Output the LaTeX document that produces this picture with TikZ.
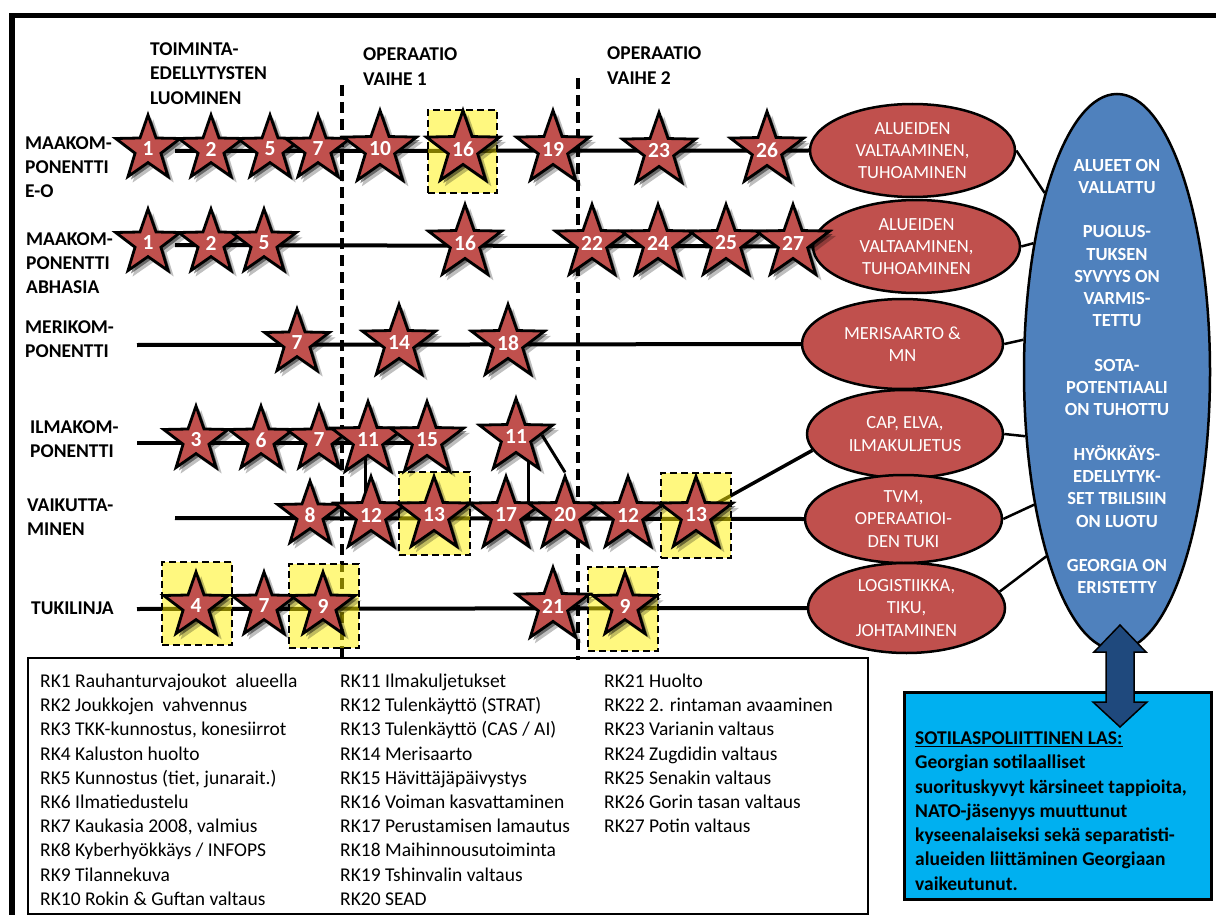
\documentclass[tikz,border=0pt]{standalone}
\usepackage{fontspec}
\setmainfont{Carlito}
\usetikzlibrary{shapes.geometric,shadows,calc}
\definecolor{rkred}{HTML}{C0504D}
\definecolor{rkblue}{HTML}{4F81BD}
\definecolor{rkcyan}{HTML}{00B0F0}
\definecolor{rkdark}{HTML}{1F497D}
\pgfdeclarelayer{bg}
\pgfdeclarelayer{mid}
\pgfsetlayers{bg,mid,main}
\begin{document}
\begin{tikzpicture}[x=1pt,y=-1pt,
  rkstar/.style={star, star points=5, star point ratio=2.5, minimum size=68pt, inner sep=0pt,
    fill=rkred, draw=black, line width=2.8pt, text=white, font=\bfseries\fontsize{21.5}{24}\selectfont,
    drop shadow={shadow xshift=5pt,shadow yshift=-5pt,shadow scale=1.03,opacity=0.25,fill=black},
    drop shadow={shadow xshift=3pt,shadow yshift=-3pt,opacity=0.45,fill=black}},
  ybox/.style={draw=black, line width=2.5pt, dash pattern=on 7pt off 4pt, fill=yellow, fill opacity=0.5,
    inner sep=0pt, minimum width=70pt, minimum height=84pt},
  rkell/.style={ellipse, draw=black, line width=2.5pt, fill=rkred, text=white, align=center, inner sep=0pt,
    font=\fontsize{18.5}{22.3}\selectfont},
  rowline/.style={line width=4pt},
  link/.style={line width=2.5pt},
  phase/.style={line width=4pt, dash pattern=on 11pt off 6pt},
  lbl/.style={anchor=west, align=left, inner sep=0pt, font=\bfseries\fontsize{19.5}{24.3}\selectfont},
  leg/.style={anchor=base west, inner sep=0pt, font=\fontsize{19.5}{24}\selectfont}
]
\useasboundingbox (0,0) rectangle (1216,915);

% frame
\draw[line width=5.5pt] (12,915) -- (12,15.5) -- (1216,15.5);

% headers
\node[lbl] (h0) at (150,73.5) {TOIMINTA-\\EDELLYTYSTEN\\LUOMINEN};
\node[lbl] (h1) at (363,66.5) {OPERAATIO\\VAIHE 1};
\node[lbl] (h2) at (607,65.5) {OPERAATIO\\VAIHE 2};

% row labels
\node[lbl] (r1l) at (25,167) {MAAKOM-\\PONENTTI\\E-O};
\node[lbl] (r2l) at (26,263) {MAAKOM-\\PONENTTI\\ABHASIA};
\node[lbl] (r3l) at (25,339) {MERIKOM-\\PONENTTI};
\node[lbl] (r4l) at (30,439.5) {ILMAKOM-\\PONENTTI};
\node[lbl] (r5l) at (27,517) {VAIKUTTA-\\MINEN};
\node[lbl] (r6l) at (31,608) {TUKILINJA};

% red ellipses
\node[rkell, minimum width=205pt, minimum height=93pt] (E1) at (912.5,150.5) {ALUEIDEN\\VALTAAMINEN,\\TUHOAMINEN};
\node[rkell, minimum width=207pt, minimum height=93pt] (E2) at (916.5,246.5) {ALUEIDEN\\VALTAAMINEN,\\TUHOAMINEN};
\node[rkell, minimum width=201pt, minimum height=90pt] (E3) at (902.5,344) {MERISAARTO \&\\MN};
\node[rkell, minimum width=196pt, minimum height=88pt] (E4) at (905,434) {CAP, ELVA,\\ILMAKULJETUS};
\node[rkell, minimum width=197pt, minimum height=88pt] (E5) at (903.5,519) {TVM,\\OPERAATIOI-\\DEN TUKI};
\node[rkell, minimum width=197pt, minimum height=90pt] (E6) at (906.5,608) {LOGISTIIKKA,\\TIKU,\\JOHTAMINEN};

% big blue ellipse
\node[ellipse, draw=black, line width=2.5pt, fill=rkblue, minimum width=186pt, minimum height=556pt, inner sep=0pt] (G) at (1117,372) {};
\node[align=center, inner sep=0pt, text=white, font=\bfseries\fontsize{18.5}{22.26}\selectfont] (Gtxt) at (1117,376.5)
  {ALUEET ON\\VALLATTU\\[22.26pt]PUOLUS-\\TUKSEN\\SYVYYS ON\\VARMIS-\\TETTU\\[22.26pt]SOTA-\\POTENTIAALI\\ON TUHOTTU\\[22.26pt]HYÖKKÄYS-\\EDELLYTYK-\\SET TBILISIIN\\ON LUOTU\\[22.26pt]GEORGIA ON\\ERISTETTY};

% stars row 1
\node[rkstar] (s1-1) at (148,149) {1};
\node[rkstar] (s1-2) at (211,149) {2};
\node[rkstar] (s1-5) at (270,149) {5};
\node[rkstar] (s1-7) at (318,149) {7};
\node[rkstar] (s1-10) at (380,149) {10};
\node[rkstar] (s1-16) at (463,149) {16};
\node[rkstar] (s1-19) at (553,149) {19};
\node[rkstar] (s1-23) at (659,151) {23};
\node[rkstar] (s1-26) at (767,150) {26};
% row 2
\node[rkstar] (s2-1) at (148,243) {1};
\node[rkstar] (s2-2) at (211,243) {2};
\node[rkstar] (s2-5) at (264,243) {5};
\node[rkstar] (s2-16) at (465,243) {16};
\node[rkstar] (s2-22) at (592,243) {22};
\node[rkstar] (s2-24) at (658,243) {24};
\node[rkstar] (s2-25) at (726,243) {25};
\node[rkstar] (s2-27) at (793,243) {27};
% row 3
\node[rkstar] (s3-7) at (297,343) {7};
\node[rkstar] (s3-14) at (399,343) {14};
\node[rkstar] (s3-18) at (508,343) {18};
% row 4
\node[rkstar] (s4-3) at (196,440) {3};
\node[rkstar] (s4-6) at (261,440) {6};
\node[rkstar] (s4-7) at (319,440) {7};
\node[rkstar] (s4-11) at (368,440) {11};
\node[rkstar] (s4-15) at (427,440) {15};
\node[rkstar] (s4-11b) at (516,437) {11};
% row 5
\node[rkstar] (s5-8) at (310,515) {8};
\node[rkstar] (s5-12) at (371,515) {12};
\node[rkstar] (s5-13) at (434,515) {13};
\node[rkstar] (s5-17) at (506,515) {17};
\node[rkstar] (s5-20) at (565,515) {20};
\node[rkstar] (s5-12b) at (628,515) {12};
\node[rkstar] (s5-13b) at (696,515) {13};
% row 6
\node[rkstar] (s6-4) at (196,606) {4};
\node[rkstar] (s6-7) at (264,606) {7};
\node[rkstar] (s6-9) at (323,606) {9};
\node[rkstar] (s6-21) at (553,606) {21};
\node[rkstar] (s6-9b) at (625,606) {9};

% yellow highlight boxes
\begin{pgfonlayer}{mid}
\node[ybox, minimum width=69pt, minimum height=83pt] (b1-16) at (462.5,151.5) {};
\node[ybox, minimum width=71pt, minimum height=83pt] (b5-13) at (434.5,513.5) {};
\node[ybox, minimum width=70pt, minimum height=85pt] (b5-13b) at (696,515.5) {};
\node[ybox, minimum width=70pt, minimum height=83pt] (b6-4) at (197,603.5) {};
\node[ybox, minimum width=70pt, minimum height=84pt] (b6-9) at (324,606) {};
\node[ybox, minimum width=70pt, minimum height=84pt] (b6-9b) at (623,609) {};
\end{pgfonlayer}

% lines
\begin{pgfonlayer}{bg}
\coordinate (p1t) at (342,85);
\coordinate (p1b) at (342,660);
\coordinate (p2t) at (578,78);
\coordinate (p2b) at (578,660);
\draw[phase] (p1t) -- (p1b);
\draw[phase] (p2t) -- (p2b);
\coordinate (r1s) at (175,151);
\coordinate (r2s) at (175,245);
\coordinate (r3s) at (137,345);
\coordinate (r4s) at (137,443);
\coordinate (r5s) at (175,518);
\coordinate (r6s) at (137,609);
\draw[rowline] (r1s) -- (E1.west);
\draw[rowline] (r2s) -- (E2.west);
\draw[rowline] (r3s) -- (E3.west);
\draw[rowline] (r4s) -- (r4s -| s4-15.center);
\draw[rowline] (r5s) -- (E5.west);
\draw[rowline] (r6s) -- (E6.west);
\draw[line width=3pt] ([xshift=-3pt]s4-11.center) -- ([xshift=-3pt]s4-11.center |- s5-12.center);
\draw[line width=3pt] ([xshift=12pt]s4-11b.center) -- ([xshift=12pt]s4-11b.center |- r5s);
\draw[line width=3pt] ([xshift=26pt,yshift=2pt]s4-11b.center) -- (s5-20.north);
\draw[line width=3.5pt] (s5-13b.center) -- (E4.190);
\draw[link] (E1.east) -- (G.112.4);
\draw[link] (E2.east) -- (G.123.3);
\draw[link] (E3.east) -- (G.161.2);
\draw[link] (E4.east) -- (G.215.2);
\draw[link] (E5.east) -- (G.238.9);
\draw[link] (E6.10) -- (G.249.6);
\end{pgfonlayer}

% legend
\node[draw=black, line width=2pt, minimum width=840pt, minimum height=256pt, anchor=north west, inner sep=0pt] (legend) at (27,657) {};
\node[leg] (k1) at (40,687.5) {RK1 Rauhanturvajoukot \ alueella};
\node[leg] (k2) at (40,711.7) {RK2 Joukkojen \ vahvennus};
\node[leg] (k3) at (40,735.9) {RK3 TKK-kunnostus, konesiirrot};
\node[leg] (k4) at (40,760.1) {RK4 Kaluston huolto};
\node[leg] (k5) at (40,784.3) {RK5 Kunnostus (tiet, junarait.)};
\node[leg] (k6) at (40,808.5) {RK6 Ilmatiedustelu};
\node[leg] (k7) at (40,832.7) {RK7 Kaukasia 2008, valmius};
\node[leg] (k8) at (40,856.9) {RK8 Kyberhyökkäys / INFOPS};
\node[leg] (k9) at (40,881.1) {RK9 Tilannekuva};
\node[leg] (k10) at (40,905.3) {RK10 Rokin \& Guftan valtaus};
\node[leg] (k11) at (340,687.5) {RK11 Ilmakuljetukset};
\node[leg] (k12) at (340,711.7) {RK12 Tulenkäyttö (STRAT)};
\node[leg] (k13) at (340,735.9) {RK13 Tulenkäyttö (CAS / AI)};
\node[leg] (k14) at (340,760.1) {RK14 Merisaarto};
\node[leg] (k15) at (340,784.3) {RK15 Hävittäjäpäivystys};
\node[leg] (k16) at (340,808.5) {RK16 Voiman kasvattaminen};
\node[leg] (k17) at (340,832.7) {RK17 Perustamisen lamautus};
\node[leg] (k18) at (340,856.9) {RK18 Maihinnousutoiminta};
\node[leg] (k19) at (340,881.1) {RK19 Tshinvalin valtaus};
\node[leg] (k20) at (340,905.3) {RK20 SEAD};
\node[leg] (k21) at (604,687.5) {RK21 Huolto};
\node[leg] (k22) at (604,711.7) {RK22 2. rintaman avaaminen};
\node[leg] (k23) at (604,735.9) {RK23 Varianin valtaus};
\node[leg] (k24) at (604,760.1) {RK24 Zugdidin valtaus};
\node[leg] (k25) at (604,784.3) {RK25 Senakin valtaus};
\node[leg] (k26) at (604,808.5) {RK26 Gorin tasan valtaus};
\node[leg] (k27) at (604,832.7) {RK27 Potin valtaus};

% LAS box
\node[draw=black, line width=3pt, fill=rkcyan, minimum width=307pt, minimum height=207pt, anchor=north west, inner sep=0pt] (las) at (903,691) {};
\node[anchor=north west, align=left, inner sep=0pt, font=\bfseries\fontsize{19.5}{24.3}\selectfont] (lastxt) at (915,731.5)
  {\underline{SOTILASPOLIITTINEN LAS:}\\Georgian sotilaalliset\\suorituskyvyt kärsineet tappioita,\\NATO-jäsenyys muuttunut\\kyseenalaiseksi sekä separatisti-\\alueiden liittäminen Georgiaan\\vaikeutunut.};

% double arrow
\draw[line width=1.5pt, fill=rkdark, line join=miter] (1120,625) -- (1146,652) -- (1134,652) -- (1134,702) -- (1147,702) -- (1120,727)
  -- (1093,702) -- (1106,702) -- (1106,652) -- (1094,652) -- cycle;
\end{tikzpicture}
\end{document}
